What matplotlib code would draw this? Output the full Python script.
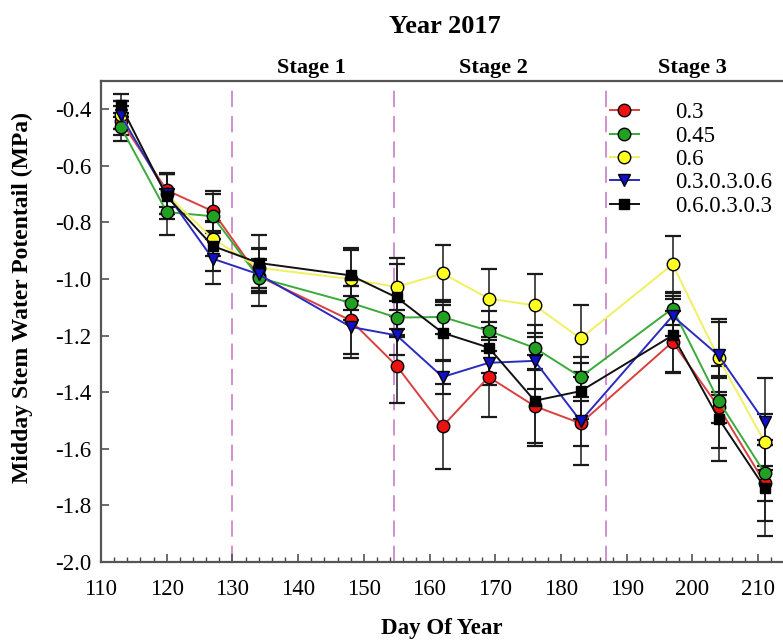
"""Midday stem water potential, year 2017, by treatment."""

import matplotlib
matplotlib.use("Agg")
import matplotlib.pyplot as plt
from matplotlib.ticker import MultipleLocator

plt.rcParams["font.family"] = ["Liberation Serif", "DejaVu Serif"]

DAYS = [113, 120, 127, 134, 148, 155, 162, 169, 176, 183, 197, 204, 211]

LABELS = ["0.3", "0.45", "0.6", "0.3.0.3.0.6", "0.6.0.3.0.3"]

SWP_03 = [-0.44, -0.686, -0.76, -0.99, -1.146, -1.307, -1.52, -1.346, -1.449, -1.51, -1.222, -1.452, -1.72]
ERR_03 = [0.05, 0.06, 0.07, 0.06, 0.12, 0.13, 0.15, 0.14, 0.13, 0.08, 0.11, 0.145, 0.135]

SWP_045 = [-0.462, -0.763, -0.778, -0.995, -1.084, -1.136, -1.134, -1.183, -1.243, -1.346, -1.104, -1.43, -1.685]
ERR_045 = [0.05, 0.08, 0.08, 0.1, 0.06, 0.06, 0.06, 0.07, 0.08, 0.07, 0.06, 0.08, 0.1]

SWP_06 = [-0.42, -0.70, -0.857, -0.96, -1.0, -1.028, -0.98, -1.069, -1.093, -1.21, -0.948, -1.28, -1.576]
ERR_06 = [0.05, 0.07, 0.06, 0.07, 0.11, 0.08, 0.1, 0.105, 0.11, 0.12, 0.1, 0.13, 0.1]

SWP_03_03_06 = [-0.421, -0.70, -0.928, -0.983, -1.169, -1.199, -1.346, -1.296, -1.289, -1.502, -1.13, -1.27, -1.505]
ERR_03_03_06 = [0.05, 0.07, 0.09, 0.05, 0.11, 0.07, 0.06, 0.08, 0.1, 0.155, 0.07, 0.13, 0.155]

SWP_06_03_03 = [-0.386, -0.707, -0.883, -0.943, -0.987, -1.065, -1.19, -1.242, -1.43, -1.396, -1.199, -1.493, -1.737]
ERR_06_03_03 = [0.04, 0.08, 0.09, 0.1, 0.09, 0.14, 0.1, 0.09, 0.16, 0.1, 0.13, 0.15, 0.17]

STAGE_BOUNDS = [130, 154.6, 186.8]
STAGE_NAMES = ["Stage 1", "Stage 2", "Stage 3"]
STAGE_POS = [142, 169.7, 200]

# style par série : couleur de ligne, couleur de marqueur, marqueur, taille
STYLES = [
    ("#d94040", "#ee1111", "o", 9),
    ("#3aab3a", "#22a022", "o", 9),
    ("#f0f060", "#ffff22", "o", 9),
    ("#2a2ac0", "#1010c8", "v", 9),
    ("#111111", "#000000", "s", 7.5),
]


def main():
    series = [SWP_03, SWP_045, SWP_06, SWP_03_03_06, SWP_06_03_03]
    errors = [ERR_03, ERR_045, ERR_06, ERR_03_03_06, ERR_06_03_03]

    fig = plt.figure(figsize=(7.83, 6.44), dpi=100)
    ax = fig.add_axes([0.129, 0.1273, 0.871, 0.7469])

    for b in STAGE_BOUNDS:
        ax.axvline(b, color="#cc88cc", lw=1.3, dashes=(9, 5), zorder=1)

    for vals, err in zip(series, errors):
        ax.errorbar(DAYS, vals, yerr=err, fmt="none", ecolor="#1a1a1a",
                    elinewidth=1.1, capsize=5.5, capthick=1.6, zorder=2)

    for vals, label, (lc, mc, mk, ms) in zip(series, LABELS, STYLES):
        ax.plot(DAYS, vals, color=lc, lw=1.4, marker=mk, ms=ms,
                markerfacecolor=mc, markeredgecolor="black", markeredgewidth=1.0,
                label=label, zorder=3)

    ax.set_xlim(110, 213.8)
    ax.set_ylim(-2.0, -0.3)
    ax.xaxis.set_major_locator(MultipleLocator(10))
    ax.xaxis.set_minor_locator(MultipleLocator(2))
    ax.yaxis.set_major_locator(MultipleLocator(0.2))
    ax.yaxis.set_major_formatter(plt.FuncFormatter(lambda v, p: f"{v:.1f}"))
    ax.tick_params(which="both", direction="in", labelsize=16.5, color="#444444")
    ax.tick_params(axis="x", pad=12)
    ax.tick_params(axis="y", pad=7)
    ax.tick_params(which="major", length=6, width=1.1)
    ax.tick_params(which="minor", length=3.5, width=1.0)

    for name in ["left", "bottom", "top"]:
        ax.spines[name].set_color("#555555")
        ax.spines[name].set_linewidth(1.6)
    ax.spines["right"].set_visible(False)

    ax.set_xlabel("Day Of Year", fontsize=16.5, fontweight="bold", labelpad=13)
    ax.set_ylabel("Midday Stem Water Potentail (MPa)", fontsize=17, fontweight="bold")
    ax.yaxis.set_label_coords(-0.1, 0.55)

    for name, x in zip(STAGE_NAMES, STAGE_POS):
        ax.text(x, 1.006, name, transform=ax.get_xaxis_transform(),
                ha="center", va="bottom", fontsize=16, fontweight="bold")
    ax.text(162.4, 1.09, "Year 2017", transform=ax.get_xaxis_transform(),
            ha="center", va="bottom", fontsize=19, fontweight="bold")

    leg = ax.legend(loc="upper left", bbox_to_anchor=(0.733, 0.975), frameon=False,
                    fontsize=16.5, handlelength=1.25, handletextpad=1.6,
                    labelspacing=0.1, borderaxespad=0)
    leg.set_zorder(5)

    fig.savefig("out.png", dpi=100)
    plt.close(fig)


if __name__ == "__main__":
    main()
